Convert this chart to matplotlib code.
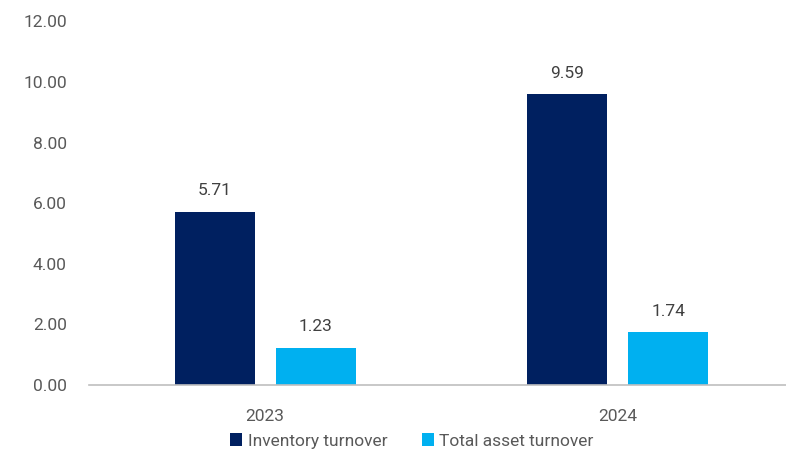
import matplotlib.pyplot as plt
import numpy as np

plt.rcParams['font.family'] = ['Roboto', 'DejaVu Sans']

years = ['2023', '2024']
inventory_turnover = [5.71, 9.59]
total_asset_turnover = [1.23, 1.74]
series_names = ['Inventory turnover', 'Total asset turnover']
colors = ['#002060', '#00B0F0']

W, H = 786, 454
fig = plt.figure(figsize=(W / 100, H / 100), dpi=100)
ax = fig.add_axes([89 / W, 1 - 385 / H, (794 - 89) / W, (385 - 21.4) / H])

x = np.arange(len(years))
width = 0.227
off = 0.143
b1 = ax.bar(x - off, inventory_turnover, width, color=colors[0], label=series_names[0])
b2 = ax.bar(x + off, total_asset_turnover, width, color=colors[1], label=series_names[1])

for bars, vals in ((b1, inventory_turnover), (b2, total_asset_turnover)):
    for r, v in zip(bars, vals):
        ax.text(r.get_x() + r.get_width() / 2, v + 0.45, f'{v:.2f}',
                ha='center', va='bottom', fontsize=12.5, color='#404040')

ax.set_xlim(-0.5, 1.5)
ax.set_ylim(0, 12)
ax.set_yticks(np.arange(0, 12.01, 2))
ax.set_yticklabels([f'{t:.2f}' for t in np.arange(0, 12.01, 2)])
ax.set_xticks(x)
ax.set_xticklabels(years)
ax.tick_params(axis='both', length=0, labelsize=12.5, colors='#595959')
ax.tick_params(axis='y', pad=16)
ax.tick_params(axis='x', pad=17)

for s in ('top', 'right', 'left'):
    ax.spines[s].set_visible(False)
ax.spines['bottom'].set_color('#BFBFBF')
ax.spines['bottom'].set_linewidth(1.2)

leg = fig.legend(loc='center', bbox_to_anchor=(412 / W, 1 - 441 / H), ncol=2,
                 frameon=False, fontsize=12.5, handlelength=0.7, handleheight=0.7,
                 handletextpad=0.3, columnspacing=2.0)
for t in leg.get_texts():
    t.set_color('#595959')

fig.savefig('out.png', dpi=100)
